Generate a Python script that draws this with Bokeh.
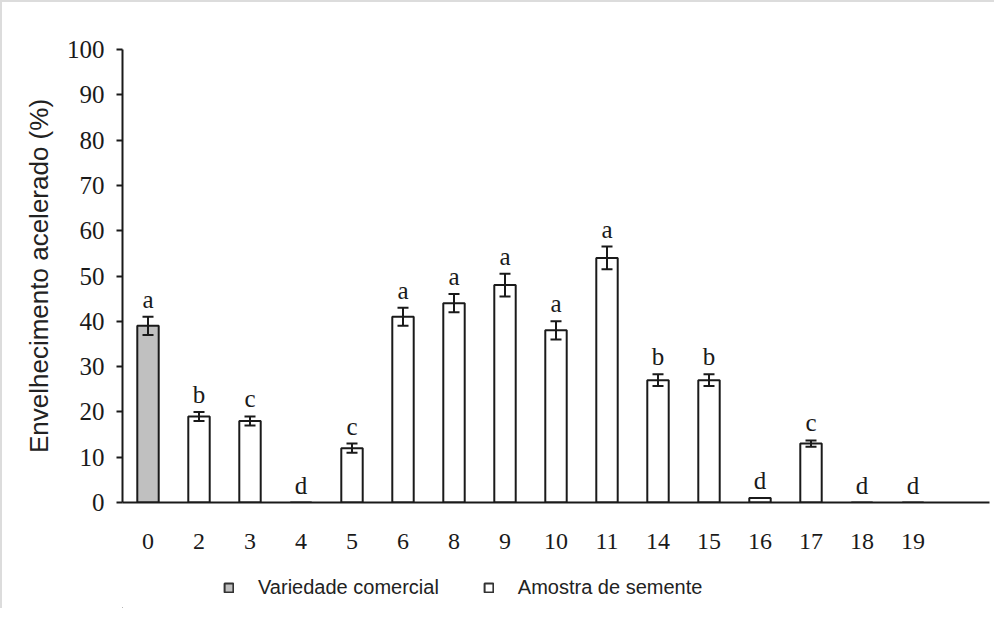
from bokeh.plotting import figure
from bokeh.layouts import column
from bokeh.models import ColumnDataSource, Whisker, TeeHead, Legend, LegendItem, FactorRange, LabelSet
from bokeh.embed import file_html
from bokeh.resources import INLINE

categories = ["0", "2", "3", "4", "5", "6", "8", "9", "10", "11", "14", "15", "16", "17", "18", "19"]
values = [39, 19, 18, 0, 12, 41, 44, 48, 38, 54, 27, 27, 1, 13, 0, 0]
errors = [2, 1, 1, 0, 1, 2, 2, 2.5, 2, 2.5, 1.3, 1.3, 0, 0.7, 0, 0]
letters = ["a", "b", "c", "d", "c", "a", "a", "a", "a", "a", "b", "b", "d", "c", "d", "d"]
groups = ["Variedade comercial"] + ["Amostra de semente"] * 15
series_names = ["Variedade comercial", "Amostra de semente"]
series_fills = ["#c0c0c0", "white"]
y_ticks = list(range(0, 101, 10))
y_label = "Envelhecimento acelerado (%)"

factors = categories + [" "]

def subset(group):
    idx = [i for i, g in enumerate(groups) if g == group]
    return ColumnDataSource(dict(
        cat=[categories[i] for i in idx],
        val=[values[i] for i in idx],
    ))

eidx = [i for i, e in enumerate(errors) if e > 0]
src_err = ColumnDataSource(dict(
    cat=[categories[i] for i in eidx],
    lo=[values[i] - errors[i] for i in eidx],
    hi=[values[i] + errors[i] for i in eidx],
))
src_lab = ColumnDataSource(dict(
    cat=categories,
    y=[v + e for v, e in zip(values, errors)],
    txt=letters,
))

p = figure(width=992, height=560,
           x_range=FactorRange(factors=factors, range_padding=0, factor_padding=0),
           y_range=(0, 100),
           output_backend="svg", toolbar_location=None,
           min_border_left=120, min_border_right=5, min_border_top=47, min_border_bottom=60)
p.outline_line_color = None
p.xgrid.visible = False
p.ygrid.visible = False

for name, fill in zip(series_names, series_fills):
    p.vbar(x="cat", top="val", width=0.42, source=subset(name),
           fill_color=fill, line_color="#1a1a1a", line_width=2)

w = Whisker(base="cat", lower="lo", upper="hi", source=src_err, level="overlay",
            line_color="#1a1a1a", line_width=2,
            upper_head=TeeHead(size=11, line_width=2, line_color="#1a1a1a"),
            lower_head=TeeHead(size=11, line_width=2, line_color="#1a1a1a"))
p.add_layout(w)

labels = LabelSet(x="cat", y="y", text="txt", source=src_lab, y_offset=4,
                  text_align="center", text_baseline="bottom",
                  text_font="Liberation Serif", text_font_size="25px", text_color="#1a1a1a")
p.add_layout(labels)

p.yaxis.ticker = y_ticks
p.yaxis.axis_label = y_label
p.yaxis.axis_label_text_font = "Liberation Sans"
p.yaxis.axis_label_text_font_style = "normal"
p.yaxis.axis_label_text_font_size = "26px"
p.yaxis.axis_label_text_color = "#222222"
p.yaxis.axis_label_standoff = 10
p.yaxis.major_label_text_font = "Liberation Serif"
p.yaxis.major_label_text_font_size = "25px"
p.yaxis.major_label_text_color = "#1a1a1a"
p.yaxis.major_tick_out = 6
p.yaxis.major_tick_in = 0
p.yaxis.minor_tick_line_color = None
p.yaxis.axis_line_width = 2
p.yaxis.major_tick_line_width = 2
p.yaxis.axis_line_color = "#1a1a1a"
p.yaxis.major_tick_line_color = "#1a1a1a"
p.yaxis.major_label_standoff = 12

p.xaxis.major_label_text_font = "Liberation Serif"
p.xaxis.major_label_text_font_size = "24px"
p.xaxis.major_label_text_color = "#1a1a1a"
p.xaxis.major_tick_out = 0
p.xaxis.major_tick_in = 0
p.xaxis.axis_line_width = 2
p.xaxis.axis_line_color = "#1a1a1a"
p.xaxis.major_label_standoff = 25

# legend strip (legend swatches only; their glyphs lie outside the visible range)
p2 = figure(width=992, height=46, output_backend="svg", toolbar_location=None,
            min_border=0, x_range=(0, 1), y_range=(0, 1),
            x_axis_location=None, y_axis_location=None)
p2.grid.visible = False
p2.outline_line_color = None
items = []
for name, fill in zip(series_names, series_fills):
    r = p2.vbar(x=[-5], top=[-5], width=0.1, fill_color=fill,
                line_color="#333333", line_width=2)
    items.append(LegendItem(label=name, renderers=[r]))
legend = Legend(items=items, location=(101, 9), orientation="horizontal",
                glyph_width=11, glyph_height=11, label_standoff=24, spacing=44,
                padding=0, margin=0, border_line_color=None, background_fill_alpha=0,
                label_text_font="Liberation Sans", label_text_font_size="20px",
                label_text_color="#222222")
p2.add_layout(legend)

layout = column(p, p2, spacing=0)
layout.styles = {"border-left": "2px solid #dcdcdc", "border-top": "2px solid #dcdcdc"}

open("out.html", "w").write(file_html(layout, INLINE))
